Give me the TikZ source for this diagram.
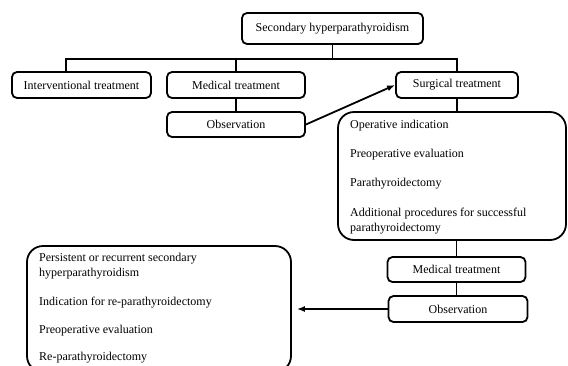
\documentclass[tikz,border=0pt]{standalone}
\usepackage{fontspec}
\setmainfont{Liberation Serif}
\usetikzlibrary{arrows.meta}
\begin{document}
\begin{tikzpicture}[x=1pt,y=-1pt,
  box/.style={draw,line width=1.8pt,rounded corners=5pt,inner sep=0pt,font=\fontsize{12}{14}\selectfont},
  bigbox/.style={draw,line width=1.8pt,rounded corners=16pt,inner sep=0pt},
  itemtxt/.style={anchor=west,inner sep=0pt,align=left,font=\fontsize{12}{15}\selectfont},
  conn/.style={line width=1.8pt},
  arr/.style={line width=1.8pt,-{Latex[length=8pt,width=6pt]}}]
\clip (0,0) rectangle (568,365);
\fill[white] (0,0) rectangle (568,365);
\node[box,minimum width=181pt,minimum height=31pt] (top) at (332.5,28.5) {Secondary hyperparathyroidism};
\node[box,minimum width=139pt,minimum height=26pt] (interv) at (81.5,85) {Interventional treatment};
\node[box,minimum width=138pt,minimum height=26pt] (med) at (236,85) {Medical treatment};
\node[box,minimum width=122pt,minimum height=26pt] (surg) at (457,85) {Surgical treatment};
\node[box,minimum width=138pt,minimum height=25pt] (obs) at (236,124.5) {Observation};
\node[bigbox,minimum width=228pt,minimum height=128pt] (big) at (452,176) {};
\node[itemtxt] (s1) at (350,126) {Operative indication};
\node[itemtxt] (s2) at (350,155) {Preoperative evaluation};
\node[itemtxt] (s3) at (350,184) {Parathyroidectomy};
\node[itemtxt] (s4) at (350,221) {Additional procedures for successful\\parathyroidectomy};
\node[box,minimum width=138pt,minimum height=25pt] (med2) at (456.5,269.5) {Medical treatment};
\node[box,minimum width=139pt,minimum height=26pt] (obs2) at (458,309) {Observation};
\node[bigbox,minimum width=264pt,minimum height=126pt] (re) at (159,309) {};
\node[itemtxt] (r1) at (39,266) {Persistent or recurrent secondary\\hyperparathyroidism};
\node[itemtxt] (r2) at (39,303) {Indication for re-parathyroidectomy};
\node[itemtxt] (r3) at (39,331) {Preoperative evaluation};
\node[itemtxt] (r4) at (39,358) {Re-parathyroidectomy};
\coordinate (bar) at (0,59);
\draw[conn] ([xshift=-15.5pt]interv.north) |- (bar -| surg.north) -- (surg.north);
\draw[conn] (top.south) -- (top.south |- bar);
\draw[conn] (med.north) -- (med.north |- bar);
\draw[conn] (med.south) -- (obs.north);
\draw[arr] (obs.east) -- (surg.west);
\draw[conn] (surg.south) -- (surg.south |- big.north);
\draw[conn] (med2.north |- big.south) -- (med2.north);
\draw[conn] (med2.south) -- (med2.south |- obs2.north);
\draw[arr,shorten >=5pt] (obs2.west) -- (re.east);
\end{tikzpicture}
\end{document}
